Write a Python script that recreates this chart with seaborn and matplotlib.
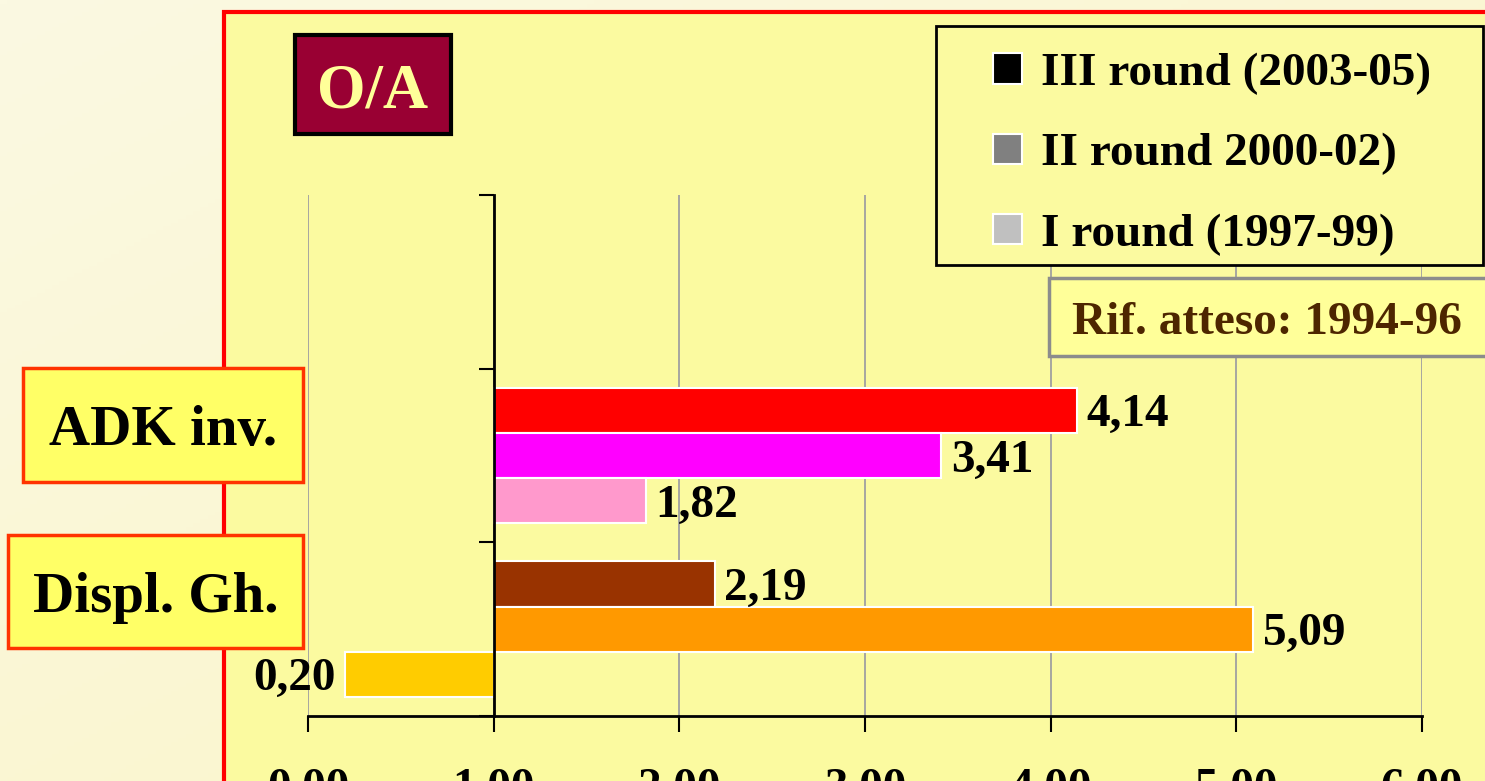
import numpy as np
import pandas as pd
import matplotlib
matplotlib.use("Agg")
import matplotlib.pyplot as plt
import seaborn as sns
from matplotlib.patches import Rectangle, Patch
from matplotlib.ticker import FuncFormatter, FixedLocator

W, H = 1485, 781

categories = ["ADK inv.", "Displ. Gh."]
rounds = ["III round (2003-05)", "II round 2000-02)", "I round (1997-99)"]
adk_values = [4.14, 3.41, 1.82]
displ_values = [2.19, 5.09, 0.20]
adk_colors = ["#FF0000", "#FF00FF", "#FF99CC"]
displ_colors = ["#993300", "#FF9900", "#FFCC00"]
legend_colors = ["#000000", "#808080", "#C0C0C0"]
baseline = 1.0
x_ticks = [0, 1, 2, 3, 4, 5, 6]
panel_title = "O/A"
reference_note = "Rif. atteso: 1994-96"

sns.set_style("white")
plt.rcParams["font.family"] = ["Liberation Serif", "DejaVu Serif"]
plt.rcParams["font.weight"] = "bold"
plt.rcParams["text.color"] = "black"
plt.rcParams["xtick.color"] = "black"
plt.rcParams["ytick.color"] = "black"

df = pd.DataFrame({
    "cat": np.repeat(categories, len(rounds)),
    "round": rounds * len(categories),
    "value": adk_values + displ_values,
})
df["delta"] = df["value"] - baseline


def fmt(v):
    return f"{v:.2f}".replace(".", ",")


fig = plt.figure(figsize=(W / 100, H / 100), dpi=100)


def box(x0, y0, x1, y1, fc, ec, lw, z):
    fig.add_artist(Rectangle((x0 / W, 1 - y1 / H), (x1 - x0) / W, (y1 - y0) / H,
                             transform=fig.transFigure, fc=fc, ec=ec, lw=lw, zorder=z))


# slide background gradient
bg = fig.add_axes([0, 0, 1, 1], zorder=-10)
xx, yy = np.meshgrid(np.linspace(0, 1, 200), np.linspace(0, 1, 200))
t = ((xx + yy) / 2)[..., None]
c0 = np.array([251, 249, 226]) / 255
c1 = np.array([250, 244, 196]) / 255
bg.imshow(c0 * (1 - t) + c1 * t, aspect="auto", extent=[0, 1, 0, 1])
bg.axis("off")

# red framed chart area
box(224, 12, 1700, 1000, "#FBFAA0", "#FF0000", 3, -5)

ax = fig.add_axes([308 / W, 1 - 716 / H, (1422 - 308) / W, (716 - 195) / H])
ax.patch.set_alpha(0)

sns.barplot(data=df, y="cat", x="delta", hue="round", order=categories,
            hue_order=rounds, orient="h", width=0.78, saturation=1,
            errorbar=None, legend=False, ax=ax, edgecolor="white", linewidth=1.5)

cat_colors = [adk_colors, displ_colors]
cat_values = [adk_values, displ_values]
for i, cont in enumerate(ax.containers):
    labels = []
    for bar in cont:
        ci = int(round(bar.get_y() + bar.get_height() / 2))
        bar.set_facecolor(cat_colors[ci][i])
        labels.append(fmt(cat_values[ci][i]))
    texts = ax.bar_label(cont, labels=labels, padding=7, fontsize=34, fontweight="bold")
    for tx in texts:
        tx.set_va("center_baseline")

ax.set_xlim(x_ticks[0] - baseline, x_ticks[-1] - baseline)
ax.set_ylim(len(categories) - 0.5, -1.5)
ax.xaxis.set_major_locator(FixedLocator([v - baseline for v in x_ticks]))
ax.xaxis.set_major_formatter(FuncFormatter(lambda v, p: fmt(v + baseline)))
ax.set_yticks(np.arange(-1.5, len(categories), 1.0))
ax.set_yticklabels([])
ax.set_xlabel("")
ax.set_ylabel("")

ax.spines["left"].set_position(("data", 0))
ax.spines["right"].set_visible(False)
ax.spines["top"].set_visible(False)
for s in ["left", "bottom"]:
    ax.spines[s].set_color("black")
    ax.spines[s].set_linewidth(2)
ax.tick_params(axis="x", bottom=True, direction="out", length=11.5, width=1.5,
               pad=26, labelsize=34, colors="black")
ax.tick_params(axis="y", left=True, direction="out", length=11, width=1.5)
ax.grid(axis="x", color="#A0A0A0", lw=1.3)
ax.grid(axis="y", visible=False)
ax.set_axisbelow(True)

# category label boxes
label_boxes = [(23, 368, 303, 482), (8, 535, 303, 648)]
for cat, (x0, y0, x1, y1) in zip(categories, label_boxes):
    box(x0, y0, x1, y1, "#FFFF66", "#FF3300", 2.5, 5)
    fig.text((x0 + x1) / 2 / W, 1 - (y0 + y1) / 2 / H, cat, ha="center",
             va="center_baseline", fontsize=41, fontweight="bold", zorder=6)

# panel title
box(295, 35, 451, 134, "#990033", "black", 3, 5)
fig.text(373 / W, 1 - 85 / H, panel_title, ha="center", va="center_baseline",
         fontsize=45, fontweight="bold", color="#FFFF99", zorder=6)

# reference note
box(1049, 278, 1600, 356, "#FFFF99", "#8C8C8C", 2.5, 5)
fig.text(1072 / W, 1 - 318 / H, reference_note, ha="left", va="center_baseline",
         fontsize=34, fontweight="bold", color="#4D2600", zorder=6)

# legend (frame drawn separately so its padding can match)
box(936, 26, 1483, 265, "#FBFAA0", "black", 2, 8)
handles = [Patch(fc=c, ec="white", lw=1.5) for c in legend_colors]
leg = fig.legend(handles, rounds, loc="upper left",
                 bbox_to_anchor=(993 / W, 1 - 53 / H), bbox_transform=fig.transFigure,
                 prop={"size": 34, "weight": "bold", "family": "Liberation Serif"},
                 frameon=False, borderpad=0, handlelength=0.62, handleheight=0.62,
                 handletextpad=0.4, labelspacing=0.8, borderaxespad=0)
leg.set_zorder(10)

fig.savefig("out.png", dpi=100)
